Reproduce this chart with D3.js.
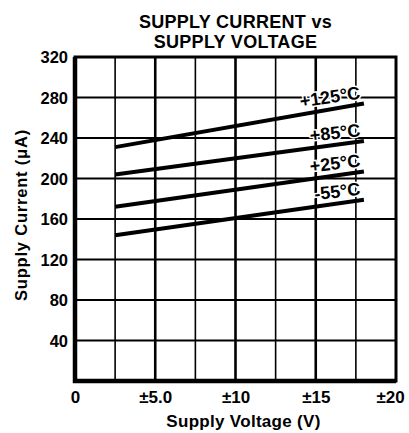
<!DOCTYPE html>
<html>
<head>
<meta charset="utf-8">
<script src="https://cdn.jsdelivr.net/npm/d3@7"></script>
<style>
  body { margin: 0; background: #fff; }
  text { font-family: "Liberation Sans", Arial, sans-serif; font-weight: bold; fill: #000; }
</style>
</head>
<body>
<div id="chart"></div>
<script>

// Set dimensions and margins
const width = 409;
const height = 433;
const margin = {left: 75, right: 13, top: 57, bottom: 52};

// Chart data
const voltages = [2.5, 18];
const tempLabels = ["+125°C", "+85°C", "+25°C", "-55°C"];
const current125 = [231, 274];
const current85 = [204, 237];
const current25 = [172, 207];
const currentM55 = [144, 179];
const yTicks = [40, 80, 120, 160, 200, 240, 280, 320];
const xTicks = [0, 5, 10, 15, 20];
const xTickLabels = ["0", "±5.0", "±10", "±15", "±20"];

const series = [current125, current85, current25, currentM55].map((vals, i) => ({
  name: tempLabels[i],
  points: voltages.map((v, j) => ({v: v, c: vals[j]}))
}));

const svg = d3.select("#chart")
  .append("svg")
  .attr("width", width)
  .attr("height", height);

// scales
let xScale = d3.scaleLinear()
  .domain([0, 20])
  .range([margin.left, width - margin.right]);

let yScale = d3.scaleLinear()
  .domain([0, 320])
  .range([height - margin.bottom, margin.top]);

// grid lines
const xGrid = d3.range(2.5, 20, 2.5);
svg.append("g")
  .selectAll("line")
  .data(xGrid)
  .enter()
  .append("line")
    .attr("x1", d => xScale(d))
    .attr("x2", d => xScale(d))
    .attr("y1", yScale(0))
    .attr("y2", yScale(320))
    .attr("stroke", "#000")
    .attr("stroke-width", d => d % 5 === 0 ? 2.6 : 1.6);

svg.append("g")
  .selectAll("line")
  .data(yTicks.slice(0, -1))
  .enter()
  .append("line")
    .attr("x1", xScale(0))
    .attr("x2", xScale(20))
    .attr("y1", d => yScale(d))
    .attr("y2", d => yScale(d))
    .attr("stroke", "#000")
    .attr("stroke-width", 1.8);

// frame
svg.append("rect")
  .attr("x", xScale(0))
  .attr("y", yScale(320))
  .attr("width", xScale(20) - xScale(0))
  .attr("height", yScale(0) - yScale(320))
  .attr("fill", "none")
  .attr("stroke", "#000")
  .attr("stroke-width", 3);

svg.append("path")
  .attr("d", `M${xScale(0)},${yScale(320)}V${yScale(0)}H${xScale(20)}`)
  .attr("fill", "none")
  .attr("stroke", "#000")
  .attr("stroke-width", 4.5);

// axes (labels only)
const yAxis = svg.append("g")
  .attr("transform", `translate(${xScale(0)},0)`)
  .call(d3.axisLeft(yScale).tickValues(yTicks).tickSize(0).tickPadding(7));
yAxis.select(".domain").remove();
yAxis.selectAll("text").attr("font-size", "16.5px").attr("dy", "0.36em")
  .style("font-family", "'Liberation Sans', Arial, sans-serif").style("font-weight", "bold");

const xAxis = svg.append("g")
  .attr("transform", `translate(0,${yScale(0)})`)
  .call(d3.axisBottom(xScale).tickValues(xTicks).tickSize(0).tickPadding(10)
    .tickFormat((d, i) => xTickLabels[i]));
xAxis.select(".domain").remove();
xAxis.selectAll("text").attr("font-size", "17px")
  .attr("dx", d => d === 20 ? "-6px" : 0)
  .style("font-family", "'Liberation Sans', Arial, sans-serif").style("font-weight", "bold");

// curves
const line = d3.line()
  .x(d => xScale(d.v))
  .y(d => yScale(d.c));

svg.append("g")
  .selectAll("path")
  .data(series)
  .enter()
  .append("path")
    .attr("d", d => line(d.points))
    .attr("fill", "none")
    .attr("stroke", "#000")
    .attr("stroke-width", 4);

// curve labels, tilted along the line
svg.append("g")
  .selectAll("text")
  .data(series)
  .enter()
  .append("text")
    .attr("transform", d => {
      const p0 = d.points[0], p1 = d.points[1];
      const ang = Math.atan2(yScale(p1.c) - yScale(p0.c), xScale(p1.v) - xScale(p0.v)) * 180 / Math.PI;
      return `translate(${xScale(p1.v) - 3},${yScale(p1.c) - 5}) rotate(${ang * 0.85})`;
    })
    .attr("text-anchor", "end")
    .attr("font-size", "18px")
    .attr("stroke", "#fff")
    .attr("stroke-width", 3)
    .attr("paint-order", "stroke")
    .text(d => d.name);

// titles
svg.append("text")
  .attr("x", (xScale(0) + xScale(20)) / 2)
  .attr("y", 28)
  .attr("text-anchor", "middle")
  .attr("font-size", "18px")
  .attr("letter-spacing", "0.3px")
  .text("SUPPLY CURRENT vs");

svg.append("text")
  .attr("x", (xScale(0) + xScale(20)) / 2)
  .attr("y", 48)
  .attr("text-anchor", "middle")
  .attr("font-size", "18px")
  .attr("letter-spacing", "0.3px")
  .text("SUPPLY VOLTAGE");

svg.append("text")
  .attr("x", (xScale(0) + xScale(20)) / 2 + 8)
  .attr("y", 427)
  .attr("text-anchor", "middle")
  .attr("font-size", "17px")
  .attr("letter-spacing", "0.3px")
  .text("Supply Voltage (V)");

svg.append("text")
  .attr("transform", `translate(27,215) rotate(-90)`)
  .attr("text-anchor", "middle")
  .attr("font-size", "16.5px")
  .attr("letter-spacing", "0.8px")
  .text("Supply Current (μA)");

</script>
</body>
</html>
